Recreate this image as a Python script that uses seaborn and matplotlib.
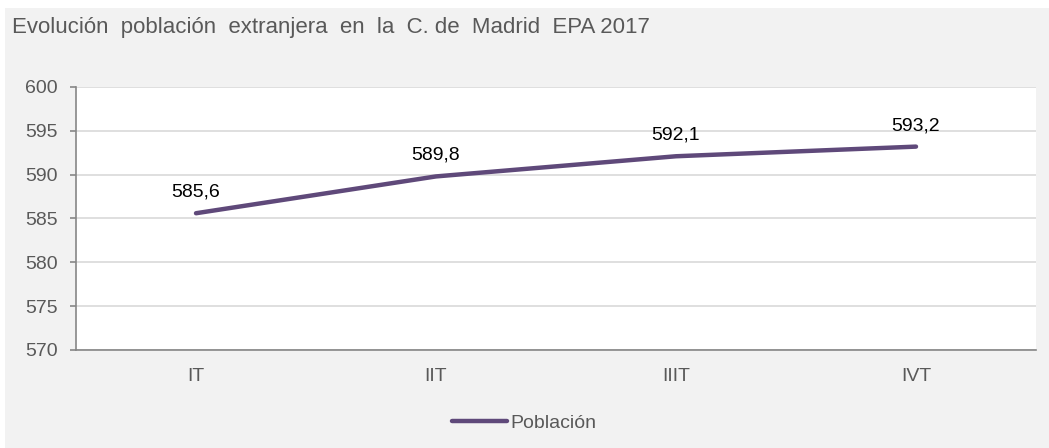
import pandas as pd
import matplotlib.pyplot as plt
import seaborn as sns
from matplotlib.patches import Rectangle

trimestres = ["IT", "IIT", "IIIT", "IVT"]
poblacion = [585.6, 589.8, 592.1, 593.2]
etiquetas = ["585,6", "589,8", "592,1", "593,2"]

df = pd.DataFrame({"trimestre": trimestres, "Población": poblacion})

sns.set_style("white")
plt.rcParams["font.family"] = ["Liberation Sans", "DejaVu Sans"]

fig = plt.figure(figsize=(10.49, 4.48), dpi=100, facecolor="white")
# gray panel behind the chart
fig.patches.append(Rectangle((5 / 1049, 0), 1, 440 / 448, transform=fig.transFigure,
                             facecolor="#F2F2F2", edgecolor="none", zorder=-10))

ax = fig.add_axes([76 / 1049, 98 / 448, 960 / 1049, 263 / 448])
ax.set_facecolor("white")

sns.lineplot(data=df, x="trimestre", y="Población", ax=ax, color="#5F497A",
             linewidth=3.2, sort=False, label="Población",
             solid_capstyle="round")

for i, (v, t) in enumerate(zip(poblacion, etiquetas)):
    ax.annotate(t, (i, v), xytext=(0, 9), textcoords="offset points",
                ha="center", va="bottom", fontsize=14, color="black")

ax.set_xlim(-0.5, 3.5)
ax.set_ylim(570, 600)
ax.set_yticks(range(570, 601, 5))
ax.set_xticks([-0.5, 0.5, 1.5, 2.5, 3.5])
ax.set_xticklabels([])
ax.set_xticks(range(4), minor=True)
ax.set_xticklabels(trimestres, minor=True)
ax.tick_params(axis="x", which="minor", length=0, pad=13, labelsize=14, labelcolor="#595959")
ax.tick_params(axis="x", which="major", length=4.3, width=1.2, color="#868686", direction="out")
ax.tick_params(axis="y", length=4.3, width=1.2, color="#868686", direction="out",
               labelsize=14, labelcolor="#595959", pad=9, left=True)
ax.grid(axis="y", color="#D9D9D9", linewidth=1.2)
ax.set_axisbelow(True)
ax.set_xlabel("")
ax.set_ylabel("")

for s in ["top", "right"]:
    ax.spines[s].set_visible(False)
for s in ["left", "bottom"]:
    ax.spines[s].set_color("#868686")
    ax.spines[s].set_linewidth(1.2)

fig.text(12 / 1049, 1 - 28 / 448, "Evolución  población  extranjera  en  la  C. de  Madrid  EPA 2017",
         fontsize=16, color="#595959", va="center", ha="left")

ax.legend(loc="center", bbox_to_anchor=(0.5, 1 - 423 / 448), bbox_transform=fig.transFigure,
          frameon=False, fontsize=14, labelcolor="#595959", handlelength=2.8,
          handletextpad=0.2)

fig.savefig("out.png", dpi=100, facecolor=fig.get_facecolor())
